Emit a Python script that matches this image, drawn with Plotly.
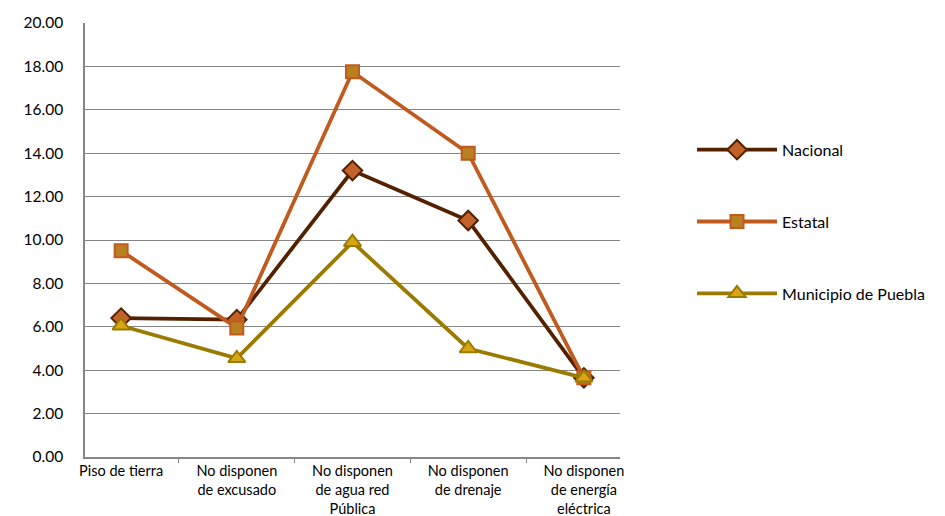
import plotly.graph_objects as go

categories = ["Piso de tierra", "No disponen<br>de excusado", "No disponen<br>de agua red<br>Pública",
              "No disponen<br>de drenaje", "No disponen<br>de energía<br>eléctrica"]
nacional = [6.40, 6.33, 13.20, 10.90, 3.65]
estatal = [9.50, 5.95, 17.75, 14.00, 3.65]
municipio = [6.05, 4.55, 9.90, 5.00, 3.65]
y_ticks = [0, 2, 4, 6, 8, 10, 12, 14, 16, 18, 20]

FONT = "Lato, 'Open Sans', sans-serif"

fig = go.Figure()
fig.add_trace(go.Scatter(
    x=categories, y=nacional, name="Nacional", mode="lines+markers", legendgroup="a",
    line=dict(color="#532100", width=3.8),
    marker=dict(symbol="diamond", size=15, color="#C0622A", line=dict(color="#532100", width=2))))
fig.add_trace(go.Scatter(
    x=categories, y=estatal, name="Estatal", mode="lines+markers", legendgroup="b",
    line=dict(color="#C05A1E", width=3.8),
    marker=dict(symbol="square", size=13, color="#B8801E", line=dict(color="#C05A1E", width=2))))
fig.add_trace(go.Scatter(
    x=categories, y=municipio, name="Municipio de Puebla", mode="lines+markers", legendgroup="c",
    line=dict(color="#9A7B00", width=3.8),
    marker=dict(symbol="triangle-up", size=15, color="#D9A514", line=dict(color="#9A7B00", width=2))))

fig.update_layout(
    width=945, height=516,
    margin=dict(l=85, r=325, t=23, b=59),
    paper_bgcolor="white", plot_bgcolor="white",
    font=dict(family=FONT, size=15, color="black"),
    showlegend=True,
    legend=dict(x=1.1346, y=0.747, xanchor="left", yanchor="top",
                tracegroupgap=48, itemwidth=80, font=dict(size=16, family=FONT),
                bgcolor="rgba(0,0,0,0)"),
    xaxis=dict(type="category", tickson="boundaries", ticks="outside", ticklen=4,
               tickcolor="#868686", showline=True, linecolor="#868686", linewidth=1.5,
               showgrid=False, tickfont=dict(size=14.5), tickangle=0, automargin=False,
               ticklabelstandoff=0),
    yaxis=dict(range=[0, 20], tickvals=y_ticks, tickformat=".2f", ticks="",
               ticklabelstandoff=17, showline=True, linecolor="#868686", linewidth=1.5,
               showgrid=True, gridcolor="#868686", gridwidth=1, zeroline=False,
               tickfont=dict(size=15.5), automargin=False),
)

fig.write_html("out.html", config={"displayModeBar": False},
               post_script="document.body.style.margin='0';document.body.style.padding='0';")
